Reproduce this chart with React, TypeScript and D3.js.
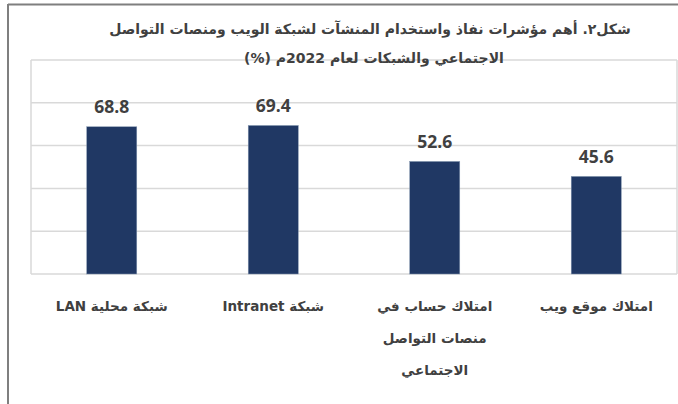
import React from "react";
import * as d3 from "d3";

const categories: string[][] = [
  ["شبكة محلية LAN"],
  ["شبكة Intranet"],
  ["امتلاك حساب في", "منصات التواصل", "الاجتماعي"],
  ["امتلاك موقع ويب"],
];
const values: number[] = [68.8, 69.4, 52.6, 45.6];
const yTicks: number[] = [0, 20, 40, 60, 80, 100];
const titleLines: string[] = [
  "شكل٢. أهم مؤشرات نفاذ واستخدام المنشآت لشبكة الويب ومنصات التواصل",
  "الاجتماعي والشبكات  لعام 2022م (%)",
];

const W = 678;
const H = 404;
const plot = { left: 31, right: 677, top: 60, bottom: 274 };

export default function App() {
  const x = d3
    .scaleBand<number>()
    .domain(d3.range(values.length))
    .range([plot.left, plot.right])
    .paddingInner(0.69)
    .paddingOuter(0.345);
  const y = d3.scaleLinear().domain([0, 100]).range([plot.bottom, plot.top]);
  const font = "'Segoe UI', 'DejaVu Sans', 'Open Sans', sans-serif";
  const titleX = [370, 374];
  const titleY = [34, 63];

  return (
    <svg
      width={W}
      height={H}
      style={{ position: "absolute", left: 0, top: 0, background: "#fff" }}
    >
      <rect x={0} y={0} width={W} height={H} fill="#fff" />
      {/* outer frame */}
      <line x1={8} x2={W} y1={4.5} y2={4.5} stroke="#7f7f7f" strokeWidth={2} />
      <line x1={8} x2={8} y1={4} y2={H} stroke="#7f7f7f" strokeWidth={2} />
      {/* gridlines */}
      {yTicks.map((t) => (
        <line
          key={t}
          x1={plot.left}
          x2={plot.right}
          y1={y(t)}
          y2={y(t)}
          stroke="#d9d9d9"
          strokeWidth={1.5}
        />
      ))}
      <line x1={plot.left} x2={plot.left} y1={plot.top} y2={plot.bottom} stroke="#d9d9d9" strokeWidth={1.5} />
      <line x1={plot.right} x2={plot.right} y1={plot.top} y2={plot.bottom} stroke="#d9d9d9" strokeWidth={1.5} />
      {/* bars */}
      {values.map((v, i) => (
        <g key={i}>
          <rect
            x={x(i)!}
            y={y(v)}
            width={x.bandwidth()}
            height={y(0) - y(v)}
            fill="#203864"
            stroke="#8497b0"
            strokeWidth={0.5}
          />
          <text
            x={x(i)! + x.bandwidth() / 2}
            y={y(v) - 13.5}
            textAnchor="middle"
            fontFamily="'Open Sans', sans-serif"
            fontWeight="bold"
            fontSize={17.5}
            fill="#404040"
          >
            {v.toFixed(1)}
          </text>
        </g>
      ))}
      {/* category labels */}
      {categories.map((lines, i) =>
        lines.map((ln, j) => (
          <text
            key={`${i}-${j}`}
            x={x(i)! + x.bandwidth() / 2}
            y={311 + j * 32}
            textAnchor="middle"
            direction="rtl"
            fontFamily={font}
            fontWeight="bold"
            fontSize={13.5}
            fill="#404040"
          >
            {ln}
          </text>
        ))
      )}
      {/* title */}
      {titleLines.map((ln, i) => (
        <text
          key={i}
          x={titleX[i]}
          y={titleY[i]}
          textAnchor="middle"
          direction="rtl"
          fontFamily={font}
          fontWeight="bold"
          fontSize={14}
          fill="#404040"
        >
          {ln}
        </text>
      ))}
    </svg>
  );
}
